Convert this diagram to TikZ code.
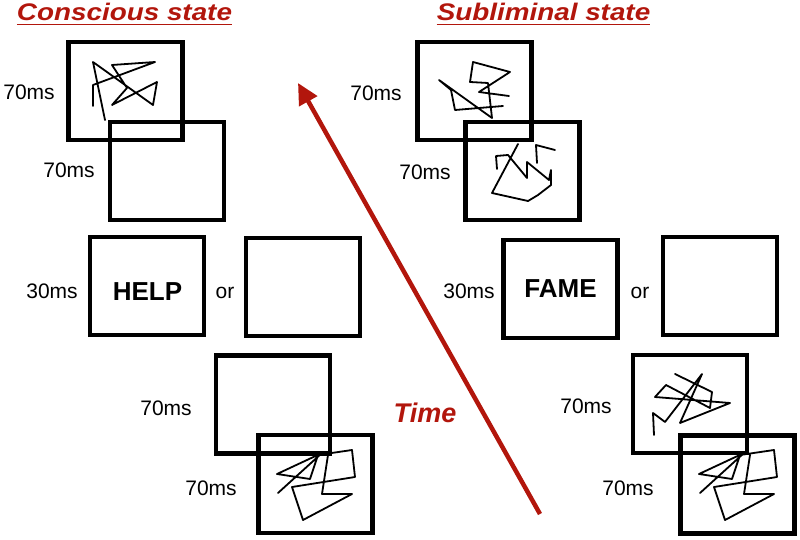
\documentclass[tikz,border=0pt]{standalone}
\usepackage{fontspec}
\setmainfont{Liberation Sans}
\newfontfamily\titlefont[FakeStretch=1.16]{Liberation Sans}
\usetikzlibrary{arrows.meta}
\definecolor{tred}{RGB}{178,22,12}
\tikzset{
  box/.style={draw, line width=4.2pt, minimum width=114pt, minimum height=98pt, inner sep=0pt, outer sep=0pt},
  lab/.style={anchor=base, inner sep=0pt, font=\fontsize{21}{25}\selectfont},
  word/.style={anchor=base, inner sep=0pt, font=\fontsize{26}{30}\selectfont\bfseries},
  ttl/.style={anchor=base, inner sep=0pt, text=tred, font=\titlefont\fontsize{24}{28}\selectfont\bfseries\itshape},
  tline/.style={draw=tred, line width=1.6pt},
  scrib/.style={line width=1.8pt, line join=round, line cap=round},
  timearrow/.style={draw=tred, line width=4.5pt, -{Triangle[length=21pt,width=20pt]}}
}
\begin{document}
\begin{tikzpicture}[x=1pt,y=-1pt]
\useasboundingbox (0,0) rectangle (800,540);

% titles
\node[ttl] (t1) at (124.5,21) {Conscious state};
\node[ttl] (t2) at (543.5,21) {Subliminal state};
\draw[tline] (t1.base west) ++(0,3.5) coordinate (u1a) -- (u1a -| t1.base east);
\draw[tline] (t2.base west) ++(0,3.5) coordinate (u2a) -- (u2a -| t2.base east);

% time arrow
\coordinate (tail) at (540,514);
\coordinate (head) at (298,83);
\draw[timearrow] (tail) -- (head);
\node[anchor=base, inner sep=0pt, text=tred, font=\fontsize{27}{30}\selectfont\bfseries\itshape] (time) at (425,422) {Time};

% left column boxes
\node[box] (a1) at (125.5,91) {};
\node[box] (a2) at (167,171) {};
\node[box] (a3) at (147,286) {};
\node[box] (a4) at (303,287) {};
\node[box] (a5) at (273,404.5) {};
\node[box] (a6) at (315.5,484) {};

% right column boxes
\node[box] (b1) at (474.5,91) {};
\node[box] (b2) at (522.5,171) {};
\node[box] (b3) at (560.5,289) {};
\node[box] (b4) at (720,286) {};
\node[box] (b5) at (690,404) {};
\node[box] (b6) at (737.5,484.5) {};

% words
\node[word] (help) at (147.5,300) {HELP};
\node[word] (fame) at (560.5,297) {FAME};

% duration labels
\node[lab] (la1) at (29,100) {70ms};
\node[lab] (la2) at (69,178) {70ms};
\node[lab] (la3) at (52,298) {30ms};
\node[lab] (lor1) at (225,298) {or};
\node[lab] (la5) at (166,415) {70ms};
\node[lab] (la6) at (211,495) {70ms};

\node[lab] (lb1) at (376,101) {70ms};
\node[lab] (lb2) at (425,179) {70ms};
\node[lab] (lb3) at (469,298) {30ms};
\node[lab] (lor2) at (640,298) {or};
\node[lab] (lb5) at (586,413) {70ms};
\node[lab] (lb6) at (628,495) {70ms};

% scribbles
\draw[scrib] (93,106) -- (93,85) -- (155,62) -- (112,65) -- (127,88) -- (112,105) -- (157,82) -- (153,105) -- (93,62) -- (105,120);

\draw[scrib] (278,493) -- (322,453) -- (277,474) -- (310,479) -- (318,455) -- (352,450) -- (355,477) -- (292,487) -- (303,520) -- (352,494) -- (322,494) -- (328,455);

\draw[scrib] (503,106) -- (455,110) -- (451,90) -- (439,80) -- (492,118) -- (488,83) -- (470,82) -- (473,62) -- (510,72) -- (479,92) -- (509,96);

\draw[scrib] (497,169) -- (496,156) -- (508,155) -- (527,178) -- (527,162) -- (549,180) -- (551,170) -- (551,185) -- (538,195) -- (528,201) -- (492,193) -- (518,144);
\draw[scrib] (555,150) -- (536,145) -- (537,163);

\draw[scrib] (654,435) -- (653,413) -- (665,422) -- (702,374) -- (680,423) -- (730,403) -- (655,397) -- (666,385) -- (710,408) -- (712,392) -- (675,374);

\draw[scrib] (700,493) -- (744,453) -- (699,474) -- (732,479) -- (740,455) -- (774,450) -- (777,477) -- (714,487) -- (725,520) -- (774,494) -- (744,494) -- (750,455);
\end{tikzpicture}
\end{document}
